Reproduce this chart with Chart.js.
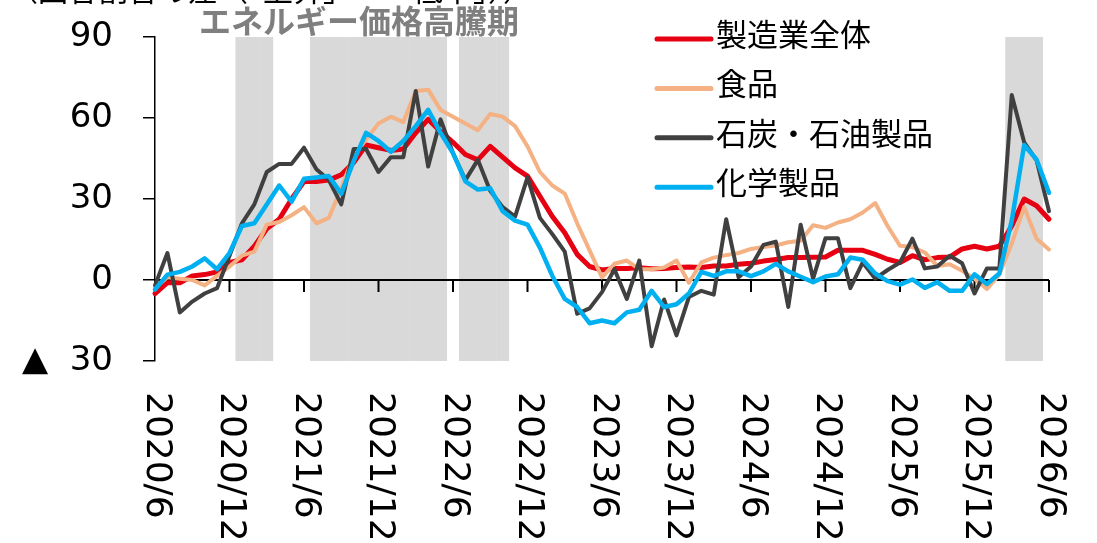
<!DOCTYPE html>
<html>
<head>
  <meta charset="utf-8">
  <title>製造業の価格判断</title>
  <script src="https://cdn.jsdelivr.net/npm/chart.js"></script>
  <style>
    html, body { margin: 0; padding: 0; background: #fff; }
    #wrap { width: 1097px; height: 543px; position: relative; }
  </style>
</head>
<body>
<div id="wrap"><canvas id="priceChart"></canvas></div>
<script>
// monthly categories 2020/6 - 2026/6
const months = [
  '2020/6', '2020/7', '2020/8', '2020/9', '2020/10', '2020/11', '2020/12',
  '2021/1', '2021/2', '2021/3', '2021/4', '2021/5', '2021/6', '2021/7', '2021/8', '2021/9', '2021/10', '2021/11', '2021/12',
  '2022/1', '2022/2', '2022/3', '2022/4', '2022/5', '2022/6', '2022/7', '2022/8', '2022/9', '2022/10', '2022/11', '2022/12',
  '2023/1', '2023/2', '2023/3', '2023/4', '2023/5', '2023/6', '2023/7', '2023/8', '2023/9', '2023/10', '2023/11', '2023/12',
  '2024/1', '2024/2', '2024/3', '2024/4', '2024/5', '2024/6', '2024/7', '2024/8', '2024/9', '2024/10', '2024/11', '2024/12',
  '2025/1', '2025/2', '2025/3', '2025/4', '2025/5', '2025/6', '2025/7', '2025/8', '2025/9', '2025/10', '2025/11', '2025/12',
  '2026/1', '2026/2', '2026/3', '2026/4', '2026/5', '2026/6'
];
const tickLabels = ['2020/6', '2020/12', '2021/6', '2021/12', '2022/6', '2022/12', '2023/6',
  '2023/12', '2024/6', '2024/12', '2025/6', '2025/12', '2026/6'];

// energy price surge periods (shaded)
const shadePeriods = [['2021/1', '2021/3'], ['2021/7', '2022/5'], ['2022/7', '2022/10'], ['2026/3', '2026/5']];

const manufacturing = [-5, -1, -1, 1.5, 2, 3, 6.5, 7.5, 12.5, 19,
  22.5, 30, 36.5, 36.5, 37, 39, 43.5, 50, 49, 48,
  48.5, 54.5, 59.5, 55, 51, 46.5, 44.5, 49.5, 45.5, 41.5,
  38.5, 31, 23.5, 17.5, 9.5, 5, 3.7, 4.3, 4.3, 4.5,
  4.2, 4.3, 4.6, 4.8, 4.6, 5.2, 5.2, 5.8, 6.2, 7,
  7.6, 8.3, 8.3, 8.4, 8.5, 11, 11, 11, 9.5, 7.7,
  6.5, 9, 7.5, 8.3, 8.5, 11.5, 12.5, 11.5, 12.5, 20,
  30, 27.5, 22.5];
const food = [-3, 1, 0.5, 0, -2, 1.5, 5, 9, 10.5, 20.5,
  21.5, 24, 27, 21, 23, 34, 46, 52, 58, 60.5,
  58.5, 70, 70.5, 63, 60.5, 58, 55.5, 61.5, 60.5, 57,
  49.5, 40, 35, 32, 21, 11, 1, 6, 7.2, 4,
  4, 4.6, 7.2, -1, 6.5, 8.3, 9.2, 10, 11.5, 12.2,
  12.8, 14, 14.5, 20.3, 19.3, 21.3, 22.5, 25, 28.5, 20,
  12.7, 12.2, 10.2, 5.2, 5.8, 3.4, 0.5, -3.3, 2, 13.5,
  27, 15.3, 11.3];
const coalOil = [-2, 10, -12, -8, -5, -3, 9, 21, 28, 40,
  43, 43, 49, 41, 37, 28, 48.5, 48.5, 40, 45.5,
  45.5, 70, 42, 59.5, 47, 37, 44.5, 33, 27, 23.5,
  38, 23, 17, 10.5, -12.5, -10.5, -4.5, 4, -7, 7.2,
  -24.5, -7.2, -20.5, -6.3, -4, -5.4, 22.5, 1, 5, 13,
  14.2, -10, 20.5, 0.5, 15.5, 15.5, -3, 6.5, 0.5, 3.7,
  6.5, 15.3, 4.3, 5, 9, 6.2, -5, 4.3, 4.3, 68.5,
  51, 44.3, 25.5];
const chemicals = [-3.5, 2, 3, 5, 8, 4, 10, 20, 21, 28,
  35, 29, 37.5, 38, 38.5, 32, 44, 54.5, 51.5, 47.5,
  51.5, 57, 63, 54.5, 47, 36.5, 33.5, 34, 25.5, 22,
  20.5, 12, 1.5, -7, -10, -16, -15, -16, -12, -11,
  -4, -10, -9, -5, 3, 1.5, 3.2, 3.2, 1.4, 3.2,
  6, 3.2, 1.2, -0.8, 1.3, 2.1, 8.3, 7.5, 2.4, -0.4,
  -1.7, 0.2, -2.9, -0.8, -4, -4, 2.1, -1.5, 2.4, 22,
  50, 44.6, 32.3];

const unitNote = '（回答割合の差（「上昇」－「低下」））';
const shadeLabel = 'エネルギー価格高騰期';

const jpFont = "'Noto Sans CJK JP', sans-serif";
const numFont = "'DejaVu Sans', sans-serif";

// floating bars spanning the whole plot height for shaded months
const shadeData = months.map((m, i) => {
  const on = shadePeriods.some(([a, b]) => i >= months.indexOf(a) && i <= months.indexOf(b));
  return on ? [-31.5, 90] : null;
});

const lineSet = (label, data, color, width, order) => ({
  type: 'line', label, data, borderColor: color, backgroundColor: color,
  borderWidth: width, pointRadius: 0, tension: 0, order,
  borderJoinStyle: 'round', borderCapStyle: 'round', clip: 6
});

const decor = {
  id: 'decor',
  afterDatasetDraw(chart, args) {
    if (args.index !== 0) return;
    // zero line with half-year ticks, above shading and under the lines
    const { ctx, chartArea, scales: { x, y } } = chart;
    const y0 = y.getPixelForValue(0);
    ctx.save();
    ctx.strokeStyle = '#000';
    ctx.lineWidth = 2;
    ctx.beginPath();
    ctx.moveTo(chartArea.left, y0);
    ctx.lineTo(chartArea.right, y0);
    months.forEach((m, i) => {
      if (!tickLabels.includes(m)) return;
      const px = x.getPixelForValue(i);
      ctx.moveTo(px, y0);
      ctx.lineTo(px, y0 + 12);
    });
    ctx.stroke();
    ctx.restore();
  },
  afterDraw(chart) {
    const { ctx, chartArea, scales: { x } } = chart;
    ctx.save();

    // x labels, rotated clockwise, under the plot
    ctx.fillStyle = '#000';
    ctx.font = '36px ' + numFont;
    ctx.textAlign = 'left';
    ctx.textBaseline = 'middle';
    months.forEach((m, i) => {
      if (!tickLabels.includes(m)) return;
      ctx.save();
      ctx.translate(x.getPixelForValue(i) + 1, chartArea.bottom + 31);
      ctx.rotate(Math.PI / 2);
      ctx.fillText(m, 0, 0);
      ctx.restore();
    });

    // unit note (mostly cut off at top) and shaded-period label
    ctx.font = '30px ' + jpFont;
    ctx.textBaseline = 'alphabetic';
    ctx.fillText(unitNote, 8, 1);
    ctx.font = 'bold 32px ' + jpFont;
    ctx.fillStyle = '#7f7f7f';
    ctx.textBaseline = 'middle';
    ctx.fillText(shadeLabel, 199, 21);

    // legend
    const lx = 657, ly = 39, gap = 49.4;
    chart.data.datasets.slice(1).forEach((ds, k) => {
      const cy = ly + k * gap;
      ctx.strokeStyle = ds.borderColor;
      ctx.lineWidth = 5;
      ctx.lineCap = 'round';
      ctx.beginPath();
      ctx.moveTo(lx, cy);
      ctx.lineTo(lx + 54, cy);
      ctx.stroke();
      ctx.fillStyle = '#000';
      ctx.font = '31px ' + jpFont;
      ctx.textBaseline = 'middle';
      ctx.fillText(ds.label, lx + 59, cy - 5);
    });
    ctx.restore();
  }
};

new Chart(document.getElementById('priceChart'), {
  type: 'line',
  data: {
    labels: months,
    datasets: [
      { type: 'bar', label: 'shade', data: shadeData, backgroundColor: '#d9d9d9',
        borderWidth: 0, barPercentage: 1.04, categoryPercentage: 1, order: 10 },
      lineSet('製造業全体', manufacturing, '#e60012', 5, 4),
      lineSet('食品', food, '#f4b183', 4, 3),
      lineSet('石炭・石油製品', coalOil, '#404040', 4, 2),
      lineSet('化学製品', chemicals, '#00b0f0', 4.5, 1)
    ]
  },
  options: {
    responsive: true,
    maintainAspectRatio: false,
    animation: false,
    layout: { padding: { left: 0, top: 37, right: 48, bottom: 182 } },
    plugins: { legend: { display: false }, tooltip: { enabled: false } },
    scales: {
      x: { type: 'category', display: false, offset: false, grid: { offset: false } },
      y: {
        min: -30, max: 90,
        border: { display: true, color: '#000', width: 1.5 },
        grid: { drawOnChartArea: false, drawTicks: true, tickLength: 12, color: '#000', lineWidth: 1.5 },
        ticks: {
          stepSize: 30, padding: 30, color: '#000',
          font: { family: numFont, size: 34 },
          callback: v => v < 0 ? '▲  ' + Math.abs(v) : String(v)
        },
        afterFit: s => { s.width = 155; s.paddingTop = 0; s.paddingBottom = 0; }
      }
    }
  },
  plugins: [decor]
});
</script>
</body>
</html>
